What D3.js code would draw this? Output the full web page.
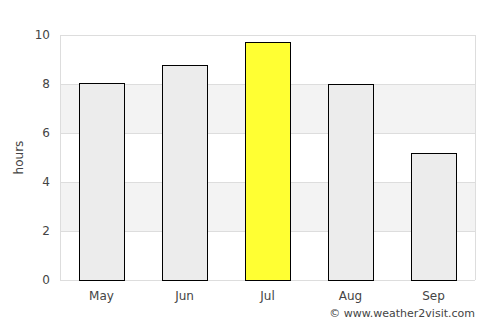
<!DOCTYPE html>
<html><head><meta charset="utf-8">
<script src="https://cdn.jsdelivr.net/npm/d3@7"></script>
<style>body{margin:0;background:#fff}svg{display:block}text{font-family:"DejaVu Sans",sans-serif;fill:#444}</style>
</head><body>
<script>
const months = ["May","Jun","Jul","Aug","Sep"];
const hours = [8.04, 8.77, 9.7, 8.0, 5.17];
const highlight = ["Jul"];
const yTicks = [0,2,4,6,8,10];

const W=500,H=325,m={l:60,r:25,t:35,b:45};
const svg=d3.select("body").append("svg").attr("width",W).attr("height",H);
const x=d3.scaleBand().domain(months).range([m.l,W-m.r]).paddingInner(0.458).paddingOuter(0.229);
const y=d3.scaleLinear().domain([0,10]).range([H-m.b,m.t]);

for(let i=0;i<yTicks.length-1;i++){
  if(i%2===1){
    svg.append("rect").attr("x",m.l).attr("width",W-m.r-m.l)
      .attr("y",y(yTicks[i+1])).attr("height",y(yTicks[i])-y(yTicks[i+1])).attr("fill","#f3f3f3");
  }
}
svg.append("g").selectAll("line").data(yTicks).join("line")
  .attr("x1",m.l).attr("x2",W-m.r).attr("y1",d=>y(d)+0.5).attr("y2",d=>y(d)+0.5)
  .attr("stroke","#dddddd");
svg.append("line").attr("x1",m.l+0.5).attr("x2",m.l+0.5).attr("y1",y(10)).attr("y2",y(0)).attr("stroke","#dddddd");
svg.append("line").attr("x1",W-m.r+0.5).attr("x2",W-m.r+0.5).attr("y1",y(10)).attr("y2",y(0)).attr("stroke","#dddddd");

svg.append("g").selectAll("rect").data(months).join("rect")
  .attr("x",d=>Math.round(x(d))+0.5).attr("width",Math.round(x.bandwidth()))
  .attr("y",(d,i)=>Math.round(y(hours[i]))+0.5).attr("height",(d,i)=>y(0)-Math.round(y(hours[i])))
  .attr("fill",d=>highlight.includes(d)?"#ffff33":"#ececec").attr("stroke","#000").attr("stroke-width",1);

const ya=svg.append("g").attr("transform",`translate(${m.l-10},0)`)
  .call(d3.axisLeft(y).tickValues(yTicks).tickSize(0).tickPadding(0));
ya.select(".domain").remove();
ya.selectAll("text").style("font-size","12px").style("fill","#444").style("font-family","DejaVu Sans, sans-serif");

const xa=svg.append("g").attr("transform",`translate(0,${y(0)+10})`)
  .call(d3.axisBottom(x).tickSize(0).tickPadding(0));
xa.select(".domain").remove();
xa.selectAll("text").style("font-size","12px").attr("dy","0.8em").style("fill","#444").style("font-family","DejaVu Sans, sans-serif");

svg.append("text").attr("transform",`translate(23,${(y(0)+y(10))/2}) rotate(-90)`)
  .attr("text-anchor","middle").style("font-size","12px").text("hours");
svg.append("text").attr("x",W-m.r).attr("y",317).attr("text-anchor","end").style("font-size","11px").text("© www.weather2visit.com");
</script>
</body></html>
